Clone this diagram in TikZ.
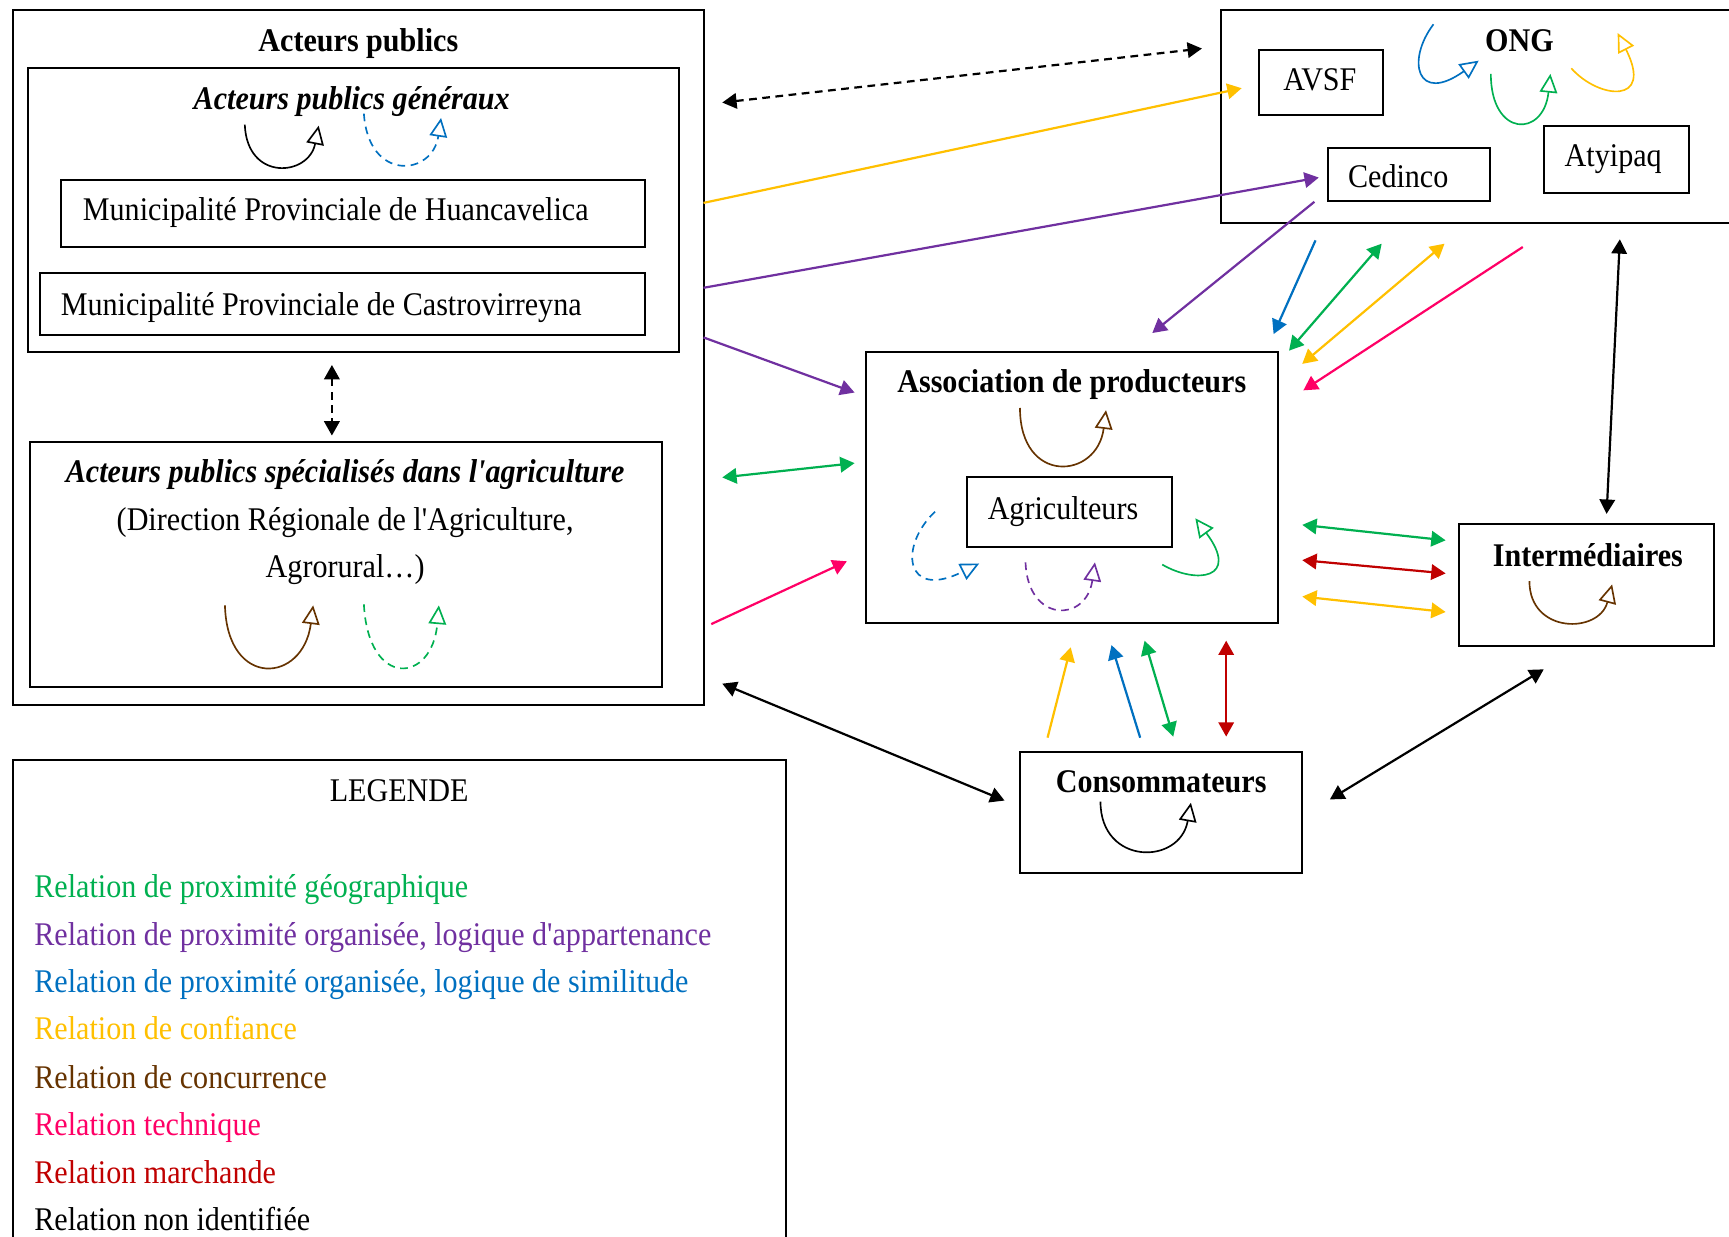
\documentclass[tikz,border=0pt]{standalone}
\usepackage{fontspec}
\setmainfont[FakeStretch=0.91, Ligatures=TeXOff]{Liberation Serif}
\usetikzlibrary{arrows.meta}
\definecolor{cgreen}{HTML}{00B050}
\definecolor{cpurple}{HTML}{7030A0}
\definecolor{cblue}{HTML}{0070C0}
\definecolor{cyellow}{HTML}{FFC000}
\definecolor{cbrown}{HTML}{663300}
\definecolor{cpink}{HTML}{FF0066}
\definecolor{cred}{HTML}{C00000}
\begin{document}
\begin{tikzpicture}[x=1pt,y=-1pt,
  box/.style={draw, line width=1.8pt, inner sep=0pt},
  txt/.style={anchor=base, inner sep=0pt, font=\fontsize{30}{36}\selectfont},
  btxt/.style={txt, font=\fontsize{30}{36}\selectfont\bfseries},
  bitxt/.style={txt, font=\fontsize{30}{36}\selectfont\bfseries\itshape},
  ltxt/.style={txt, anchor=base west},
  conn/.style={line width=2pt, -{Triangle[length=13pt,width=14pt]}},
  conn2/.style={line width=2pt, {Triangle[length=13pt,width=14pt]}-{Triangle[length=13pt,width=14pt]}},
  selfloop/.style={line width=1.5pt, -{Triangle[open,length=17pt,width=16pt]}},
  dsh/.style={dash pattern=on 7pt off 5pt}
]
\useasboundingbox (0,0) rectangle (1568,1121);
\fill[white] (0,0) rectangle (1568,1121);

% boxes
\node[box, minimum width=626, minimum height=630] (ap) at (325,324) {};
\node[box, minimum width=591, minimum height=257] (apg) at (320.5,190.5) {};
\node[box, minimum width=530, minimum height=61] (huanca) at (320,193.5) {};
\node[box, minimum width=549, minimum height=56] (castro) at (310.5,276) {};
\node[box, minimum width=573, minimum height=222] (aps) at (313.5,512) {};
\node[box, minimum width=473, minimum height=193] (ong) at (1343.5,105.5) {};
\node[box, minimum width=112, minimum height=59] (avsf) at (1198,74.5) {};
\node[box, minimum width=147, minimum height=48] (cedinco) at (1277.5,158) {};
\node[box, minimum width=132, minimum height=61] (atyipaq) at (1466,144.5) {};
\node[box, minimum width=374, minimum height=246] (asso) at (972,442) {};
\node[box, minimum width=186, minimum height=63] (agri) at (970,464.5) {};
\node[box, minimum width=231, minimum height=111] (inter) at (1438.5,530.5) {};
\node[box, minimum width=256, minimum height=110] (conso) at (1053,737) {};
\node[box, minimum width=701, minimum height=451] (leg) at (362.5,914.5) {};

% texts
\node[btxt] (t1) at (325,47) {Acteurs publics};
\node[bitxt] (t2) at (319,99) {Acteurs publics généraux};
\node[ltxt] (t3) at (75,200) {Municipalité Provinciale de Huancavelica};
\node[ltxt] (t4) at (55,286) {Municipalité Provinciale de Castrovirreyna};
\node[bitxt] (t5) at (313,438) {Acteurs publics spécialisés dans l'agriculture};
\node[txt] (t6) at (313,481) {(Direction Régionale de l'Agriculture,};
\node[txt] (t7) at (313,524) {Agrorural…)};
\node[btxt] (t8) at (1378,47) {ONG};
\node[txt] (t9) at (1197,82) {AVSF};
\node[txt] (t10) at (1268,170) {Cedinco};
\node[txt] (t11) at (1463,151) {Atyipaq};
\node[btxt] (t12) at (972,356) {Association de producteurs};
\node[txt] (t13) at (964,471) {Agriculteurs};
\node[btxt] (t14) at (1440,514) {Intermédiaires};
\node[btxt] (t15) at (1053,719) {Consommateurs};
\node[txt] (t16) at (362,727) {LEGENDE};
\node[ltxt, text=cgreen] (l1) at (31,814) {Relation de proximité géographique};
\node[ltxt, text=cpurple] (l2) at (31,857) {Relation de proximité organisée, logique d'appartenance};
\node[ltxt, text=cblue] (l3) at (31,900) {Relation de proximité organisée, logique de similitude};
\node[ltxt, text=cyellow] (l4) at (31,943) {Relation de confiance};
\node[ltxt, text=cbrown] (l5) at (31,987) {Relation de concurrence};
\node[ltxt, text=cpink] (l6) at (31,1030) {Relation technique};
\node[ltxt, text=cred] (l7) at (31,1073) {Relation marchande};
\node[ltxt] (l8) at (31,1116) {Relation non identifiée};

% self loops
\draw[selfloop] (222,113) .. controls (224,165) and (280,160) .. (289,114);
\draw[selfloop, cblue, dsh] (330,103) .. controls (334,165) and (392,160) .. (400,107);
\draw[selfloop, cbrown] (204,549) .. controls (206,625) and (275,620) .. (284,549);
\draw[selfloop, cgreen, dsh] (330,548) .. controls (334,625) and (392,620) .. (398,549);
\draw[selfloop, cbrown] (925,370) .. controls (925,440) and (995,435) .. (1003,372);
\draw[selfloop, cblue, dsh] (848,464) .. controls (815,495) and (820,545) .. (888,511);
\draw[selfloop, cpurple, dsh] (930,510) .. controls (932,565) and (985,565) .. (993,510);
\draw[selfloop, cgreen] (1054,512) .. controls (1085,530) and (1125,525) .. (1084,470);
\draw[selfloop, cbrown] (1387,527) .. controls (1387,575) and (1450,575) .. (1462,530);
\draw[selfloop] (998,727) .. controls (998,785) and (1070,785) .. (1080,728);
\draw[selfloop, cblue] (1300,22) .. controls (1275,55) and (1285,95) .. (1341,55);
\draw[selfloop, cgreen] (1352,67) .. controls (1352,125) and (1400,125) .. (1406,67);
\draw[selfloop, cyellow] (1425,62) .. controls (1450,90) and (1500,95) .. (1467,30);

% connector end points
\coordinate (a1) at (655,93);   \coordinate (b1) at (1090,44);
\coordinate (a2) at (638,184);  \coordinate (b2) at (1126,80);
\coordinate (a3) at (638,261);  \coordinate (b3) at (1196,161);
\coordinate (a4) at (1192,183); \coordinate (b4) at (1045,302);
\coordinate (a5) at (638,306);  \coordinate (b5) at (775,356);
\coordinate (a6) at (655,433);  \coordinate (b6) at (775,420);
\coordinate (a7) at (645,566);  \coordinate (b7) at (768,509);
\coordinate (a8) at (1193,218); \coordinate (b8) at (1155,303);
\coordinate (a9) at (1253,221); \coordinate (b9) at (1169,318);
\coordinate (a10) at (1310,221); \coordinate (b10) at (1181,330);
\coordinate (a11) at (1381,224); \coordinate (b11) at (1182,354);
\coordinate (a12) at (1469,217); \coordinate (b12) at (1457,466);
\coordinate (a13) at (1181,476); \coordinate (b13) at (1311,490);
\coordinate (a14) at (1181,508); \coordinate (b14) at (1311,520);
\coordinate (a15) at (1181,541); \coordinate (b15) at (1311,555);
\coordinate (a16) at (950,669);  \coordinate (b16) at (971,587);
\coordinate (a17) at (1034,669); \coordinate (b17) at (1008,585);
\coordinate (a18) at (1038,581); \coordinate (b18) at (1064,668);
\coordinate (a19) at (1112,581); \coordinate (b19) at (1112,668);
\coordinate (a20) at (655,620);  \coordinate (b20) at (911,726);
\coordinate (a21) at (1206,725); \coordinate (b21) at (1400,607);
\coordinate (a22) at (301,331);  \coordinate (b22) at (301,395);

% connectors
\draw[conn2, dsh] (a1) -- (b1);
\draw[conn, cyellow] (a2) -- (b2);
\draw[conn, cpurple] (a3) -- (b3);
\draw[conn, cpurple] (a4) -- (b4);
\draw[conn, cpurple] (a5) -- (b5);
\draw[conn2, cgreen] (a6) -- (b6);
\draw[conn, cpink] (a7) -- (b7);
\draw[conn, cblue] (a8) -- (b8);
\draw[conn2, cgreen] (a9) -- (b9);
\draw[conn2, cyellow] (a10) -- (b10);
\draw[conn, cpink] (a11) -- (b11);
\draw[conn2] (a12) -- (b12);
\draw[conn2, cgreen] (a13) -- (b13);
\draw[conn2, cred] (a14) -- (b14);
\draw[conn2, cyellow] (a15) -- (b15);
\draw[conn, cyellow] (a16) -- (b16);
\draw[conn, cblue] (a17) -- (b17);
\draw[conn2, cgreen] (a18) -- (b18);
\draw[conn2, cred] (a19) -- (b19);
\draw[conn2] (a20) -- (b20);
\draw[conn2] (a21) -- (b21);
\draw[conn2, dsh] (a22) -- (b22);
\end{tikzpicture}
\end{document}
